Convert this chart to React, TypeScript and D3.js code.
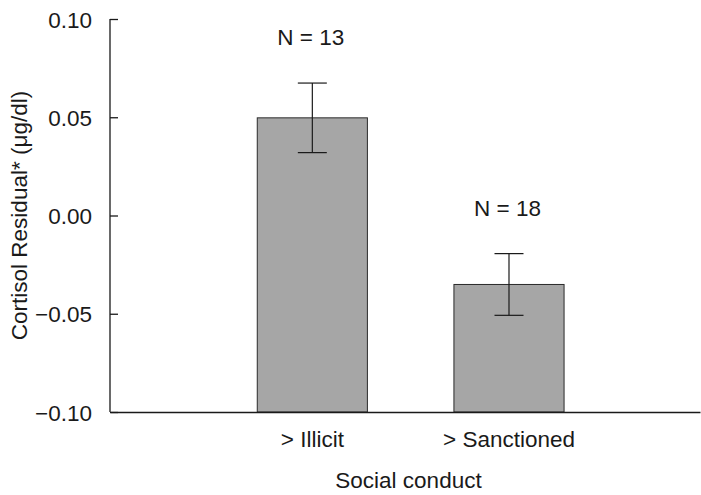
import React, { useEffect, useRef } from "react";
import * as d3 from "d3";

const categories = ["> Illicit", "> Sanctioned"];
const means = [0.0497, -0.0351];
const errors = [0.0177, 0.0157];
const sampleSizes = ["N = 13", "N = 18"];
const yTicks = [-0.1, -0.05, 0, 0.05, 0.1];

const App = () => {
  const ref = useRef<SVGSVGElement | null>(null);

  useEffect(() => {
    if (!ref.current) return;
    const width = 701;
    const height = 495;
    const margin = { top: 19, right: 1, bottom: 83, left: 110 };
    const font = "'Liberation Sans', Arial, Helvetica, sans-serif";
    const fs = 22.5;

    const svg = d3.select(ref.current);
    svg.selectAll("*").remove();

    const x = d3
      .scaleBand()
      .domain(categories)
      .range([margin.left, width - margin.right])
      .paddingInner(0.44)
      .paddingOuter(0.72)
      .align(0.52);

    const y = d3
      .scaleLinear()
      .domain([-0.1, 0.1])
      .range([height - margin.bottom, margin.top]);

    const ink = "#1a1a1a";

    // bars
    svg
      .append("g")
      .selectAll("rect")
      .data(categories)
      .join("rect")
      .attr("x", (d) => x(d)!)
      .attr("width", x.bandwidth())
      .attr("y", (_, i) => y(means[i]))
      .attr("height", (_, i) => y(-0.1) - y(means[i]))
      .attr("fill", "#a6a6a6")
      .attr("stroke", "#2a2a2a")
      .attr("stroke-width", 1);

    // error bars
    const cap = 14.5;
    const eb = svg.append("g").attr("stroke", ink).attr("stroke-width", 1.2);
    categories.forEach((c, i) => {
      const cx = x(c)! + x.bandwidth() / 2;
      const hi = y(means[i] + errors[i]);
      const lo = y(means[i] - errors[i]);
      eb.append("line").attr("x1", cx).attr("x2", cx).attr("y1", hi).attr("y2", lo);
      eb.append("line").attr("x1", cx - cap).attr("x2", cx + cap).attr("y1", hi).attr("y2", hi);
      eb.append("line").attr("x1", cx - cap).attr("x2", cx + cap).attr("y1", lo).attr("y2", lo);
    });

    // N labels
    svg
      .append("g")
      .selectAll("text")
      .data(categories)
      .join("text")
      .attr("x", (d) => x(d)! + x.bandwidth() / 2 - 1.5)
      .attr("y", (_, i) => y(means[i] + errors[i]) - 38)
      .attr("text-anchor", "middle")
      .attr("font-family", font)
      .attr("font-size", fs)
      .attr("fill", ink)
      .text((_, i) => sampleSizes[i]);

    // y axis
    const yAxis = svg
      .append("g")
      .attr("transform", `translate(${margin.left},0)`)
      .call(
        d3
          .axisRight(y)
          .tickValues(yTicks)
          .tickSize(8)
          .tickFormat((d) => {
            const s = d3.format(".2f")(d as number);
            return s.replace("-", "\u2013");
          })
      );
    yAxis.select(".domain").attr("stroke", ink).attr("stroke-width", 1.3).attr("d", `M0,${y(0.1)}V${y(-0.1)}`);
    yAxis.selectAll(".tick line").attr("stroke", ink).attr("stroke-width", 1.3);
    yAxis
      .selectAll(".tick text")
      .attr("x", -18)
      .attr("dy", "0.36em")
      .attr("text-anchor", "end")
      .attr("font-family", font)
      .attr("font-size", fs)
      .attr("fill", ink);

    // x axis
    const xAxis = svg
      .append("g")
      .attr("transform", `translate(0,${y(-0.1)})`)
      .call(d3.axisBottom(x).tickSize(0).tickPadding(19));
    xAxis.select(".domain").attr("stroke", ink).attr("stroke-width", 1.3);
    xAxis
      .selectAll(".tick text")
      .attr("dy", "0.71em")
      .attr("font-family", font)
      .attr("font-size", fs)
      .attr("fill", ink);

    // axis titles
    svg
      .append("text")
      .attr("x", (margin.left + width) / 2 + 3)
      .attr("y", 488)
      .attr("text-anchor", "middle")
      .attr("font-family", font)
      .attr("font-size", fs)
      .attr("fill", ink)
      .text("Social conduct");

    svg
      .append("text")
      .attr("transform", `translate(27,${y(0)}) rotate(-90)`)
      .attr("text-anchor", "middle")
      .attr("font-family", font)
      .attr("font-size", fs)
      .attr("fill", ink)
      .text("Cortisol Residual* (\u03bcg/dl)");
  }, []);

  return (
    <svg
      ref={ref}
      width={701}
      height={495}
      style={{ position: "absolute", left: 0, top: 0, background: "#fff" }}
    />
  );
};

export default App;
